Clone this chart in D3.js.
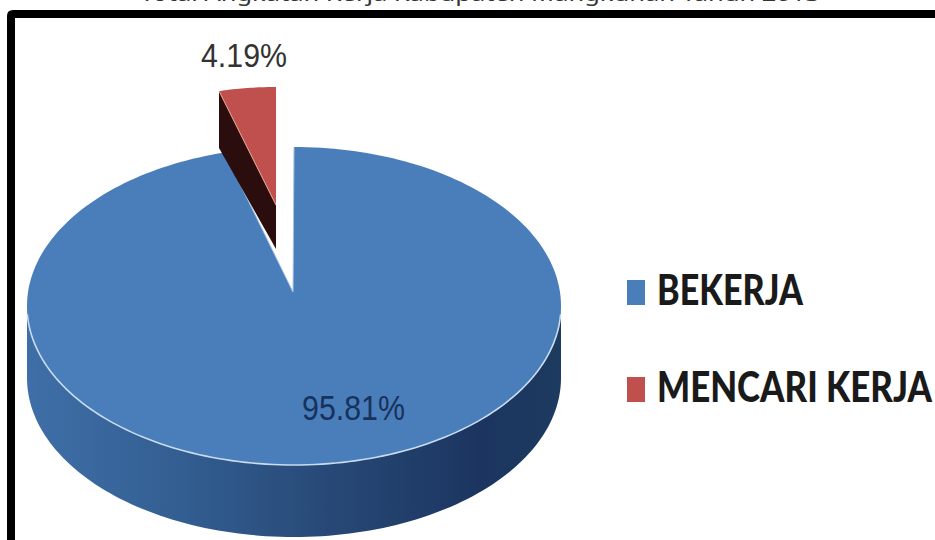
<!DOCTYPE html>
<html>
<head>
<meta charset="utf-8">
<script src="https://cdn.jsdelivr.net/npm/d3@7/dist/d3.min.js"></script>
<style>
html,body{margin:0;padding:0;background:#fff;overflow:hidden}
svg{display:block}
</style>
</head>
<body>
<svg id="chart" width="935" height="540"></svg>
<script>
// Labour force shares
const categories = ["BEKERJA", "MENCARI KERJA"];
const shares = [95.81, 4.19];
const shareLabels = ["95.81%", "4.19%"];
const sliceColors = ["#4a7ebb", "#c0504d"];
const titleText = "Total Angkatan Kerja Kabupaten Mangkunan Tahun 2013";

const svg = d3.select("#chart");
const defs = svg.append("defs");

// Shaded wall of the disc: lit on the left, deep navy to the right
const wall = defs.append("linearGradient").attr("id", "wall");
[[0, "#3f6fa8"], [0.3, "#325d90"], [0.6, "#264673"], [0.85, "#1b3560"], [1, "#1d3a5f"]]
  .forEach(([o, c]) => wall.append("stop").attr("offset", o).attr("stop-color", c));

const color = d3.scaleOrdinal().domain(categories).range(sliceColors);
const slices = d3.pie().sort(null).startAngle(0).endAngle(2 * Math.PI)(shares);
const [mainSlice, smallSlice] = slices;

// Disc geometry: an ellipse seen in perspective, with the hub above its centre
const disc = { cx: 294, cy: 306, rx: 267, ry: 159, depth: 72, hubX: 293, hubY: 292 };
const lifted = { hubX: 276, hubY: 205, rx: 219, ry: 118, wallDrop: 44 };

const rim = (a, g = disc, hubY = g.cy, cx = g.cx) => [cx + g.rx * Math.sin(a), hubY - g.ry * Math.cos(a)];
const sweep = (a0, a1, n = 120) => d3.range(n + 1).map(i => a0 + (a1 - a0) * i / n);
const line = d3.line();

// Frame
svg.append("path")
  .attr("d", "M11 545V16Q11 14 13 14H940")
  .attr("fill", "none").attr("stroke", "#000").attr("stroke-width", 8);

// Clipped heading at the very top
svg.append("text")
  .attr("x", 140).attr("y", 1)
  .attr("textLength", 680).attr("lengthAdjust", "spacingAndGlyphs")
  .attr("font-family", "'Noto Sans', sans-serif").attr("font-size", 19).attr("fill", "#333")
  .text(titleText);

// Wall of the main slice: front half of the ellipse pushed down by the depth
const front = sweep(Math.PI / 2, 3 * Math.PI / 2).map(a => rim(a));
const frontLow = front.map(([x, y]) => [x, y + disc.depth]).reverse();
svg.append("path").attr("d", line(front.concat(frontLow)) + "Z").attr("fill", "url(#wall)");

// Top face of the main slice
const mainEdge = sweep(mainSlice.startAngle, mainSlice.endAngle, 240).map(a => rim(a));
svg.append("path")
  .attr("d", line([[disc.hubX, disc.hubY], ...mainEdge]) + "Z")
  .attr("fill", color(categories[0]));

// Pale highlight along the front rim and the cut edges
svg.append("path").attr("d", line(front.slice(2, -2)))
  .attr("fill", "none").attr("stroke", "#c9dcf0").attr("stroke-width", 1.6);
svg.append("path")
  .attr("d", line([mainEdge[mainEdge.length - 1], [disc.hubX, disc.hubY], mainEdge[0]]))
  .attr("fill", "none").attr("stroke", "#a9c4e4").attr("stroke-width", 1);

// Lifted slice: inner wall first, then its top face
const liftEdge = sweep(smallSlice.startAngle, smallSlice.endAngle, 20)
  .map(a => rim(a, lifted, lifted.hubY, lifted.hubX));
const liftLeft = liftEdge[0];
svg.append("path")
  .attr("d", line([liftLeft, [lifted.hubX, lifted.hubY],
    [lifted.hubX, lifted.hubY + lifted.wallDrop], [liftLeft[0], liftLeft[1] + 57]]) + "Z")
  .attr("fill", "#2a0d0c");
svg.append("path")
  .attr("d", line([[lifted.hubX, lifted.hubY], ...liftEdge]) + "Z")
  .attr("fill", color(categories[1]));
svg.append("path")
  .attr("d", line([liftLeft, [lifted.hubX, lifted.hubY]]))
  .attr("fill", "none").attr("stroke", "#e9a793").attr("stroke-width", 1);

// Share labels, tall and slightly condensed
const labelFont = "'Liberation Sans', Arial, sans-serif";
svg.append("text").attr("x", 302).attr("y", 420)
  .attr("textLength", 103).attr("lengthAdjust", "spacingAndGlyphs")
  .attr("font-family", labelFont).attr("font-size", 35).attr("fill", "#17325c")
  .text(shareLabels[0]);
svg.append("text").attr("x", 201).attr("y", 67)
  .attr("textLength", 86).attr("lengthAdjust", "spacingAndGlyphs")
  .attr("font-family", labelFont).attr("font-size", 33).attr("fill", "#333")
  .text(shareLabels[1]);

// Legend
const legendY = d3.scalePoint().domain(categories).range([305, 402]);
const legendWidth = d3.scaleOrdinal().domain(categories).range([146, 275]);
const legend = svg.append("g").selectAll("g").data(categories).join("g");
legend.append("rect")
  .attr("x", 627).attr("width", 18).attr("height", 25)
  .attr("y", d => legendY(d) - 25)
  .attr("fill", d => color(d));
legend.append("text")
  .attr("x", 657).attr("y", d => legendY(d))
  .attr("textLength", d => legendWidth(d)).attr("lengthAdjust", "spacingAndGlyphs")
  .attr("font-family", "Lato, sans-serif").attr("font-weight", 900).attr("font-size", 42)
  .attr("fill", "#1a1a1a")
  .text(d => d);
</script>
</body>
</html>
